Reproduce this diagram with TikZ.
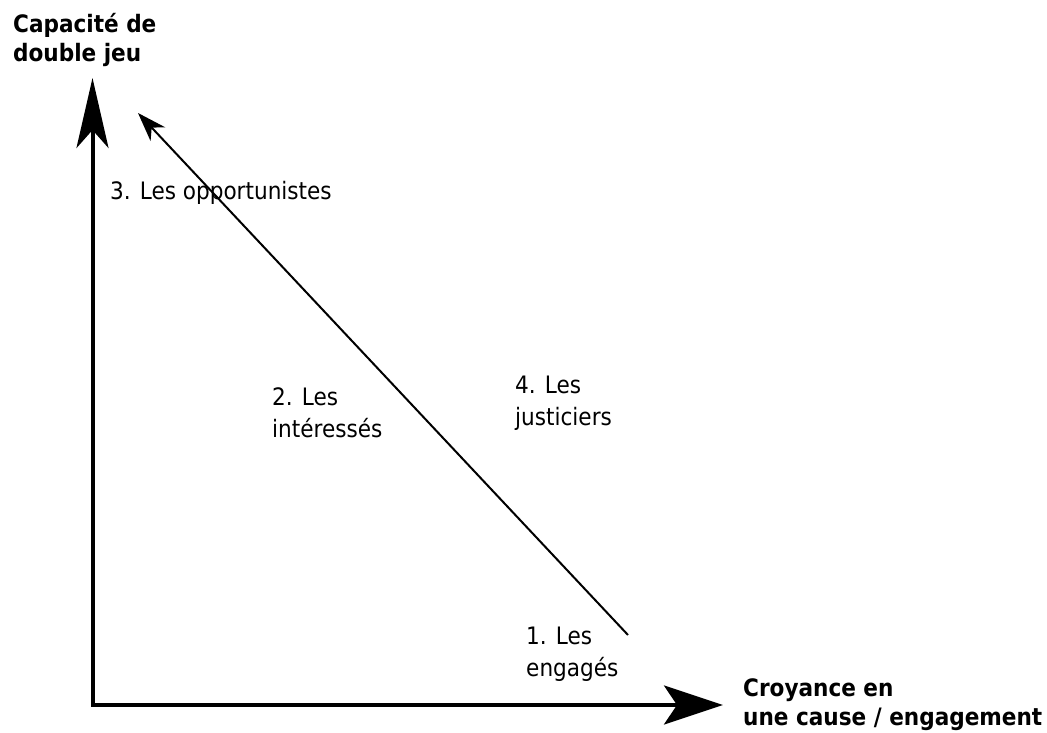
\documentclass[tikz,border=0pt]{standalone}
\usepackage{fontspec}
\setmainfont{DejaVu Sans Condensed}
\usetikzlibrary{arrows.meta}
\begin{document}
\begin{tikzpicture}[x=1pt,y=-1pt,
  axis/.style={line width=4pt, line cap=rect},
  diag/.style={line width=2pt, -{Stealth[length=29pt,width=20pt,inset=9pt]}},
  lab/.style={inner sep=0pt, anchor=base west, align=left, font=\fontsize{24}{32}\selectfont},
  axlab/.style={inner sep=0pt, anchor=base west, align=left, font=\fontsize{24}{29}\selectfont\bfseries}]
\useasboundingbox (0,0) rectangle (1047,733);
\coordinate (O) at (92.5,705);
\coordinate (ytip) at (92.5,78);
\coordinate (xtip) at (723,705);
\coordinate (dstart) at (628,635);
\coordinate (dtip) at (138,113);
\draw[axis, -{Stealth[length=70pt,width=32pt,inset=18pt]}] (O) -- (ytip);
\draw[axis, -{Stealth[length=59pt,width=39pt,inset=13pt]}] (O) -- (xtip);
\draw[diag] (dstart) -- (dtip);
\node[axlab] (ylab) at (13,62) {Capacité de\\double jeu};
\node[axlab] (xlab) at (743,725) {Croyance en\\une cause / engagement};
\node[lab] (l3) at (110,200) {3. Les opportunistes};
\node[lab] (l2) at (272,437) {2. Les\\intéressés};
\node[lab] (l4) at (515,425) {4. Les\\justiciers};
\node[lab] (l1) at (526,676) {1. Les\\engagés};
\end{tikzpicture}
\end{document}
